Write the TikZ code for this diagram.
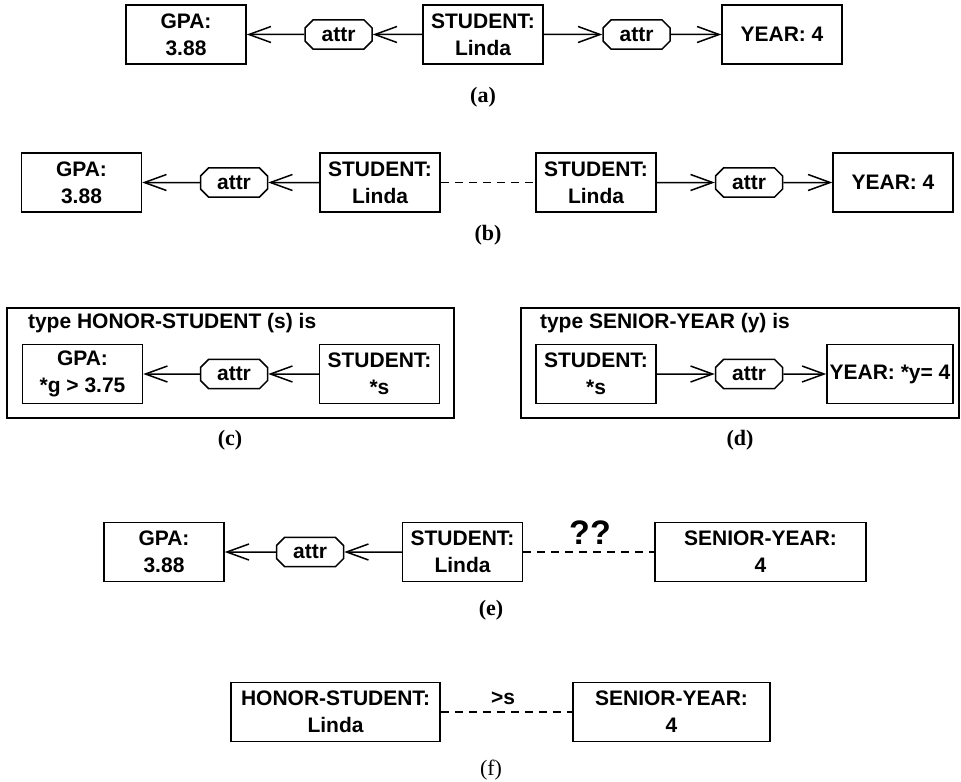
\documentclass[tikz,border=0pt]{standalone}
\usepackage{fontspec}
\setmainfont{Liberation Serif}
\setsansfont{Liberation Sans}
\usetikzlibrary{shapes,arrows.meta,positioning}

\begin{document}
\begin{tikzpicture}[%
  x=0.5pt, y=-0.5pt,
  every node/.style={font=\sffamily\bfseries\fontsize{10.5}{13.5}\selectfont},
  cbox/.style={draw=black,line width=0.75pt,minimum height=29.5pt,minimum width=60pt,align=center,inner sep=0pt},
  relbox/.style={draw=black,line width=0.75pt,chamfered rectangle,chamfered rectangle xsep=2pt,chamfered rectangle ysep=2pt,minimum width=33.5pt,minimum height=14.5pt,inner xsep=5pt,inner ysep=1.8pt},
  ctx/.style={draw=black,line width=0.75pt,minimum height=55pt,inner sep=0pt},
  attrarc/.style={line width=0.75pt,-{Straight Barb[length=11pt,width=8pt]}},
  coref/.style={line width=0.75pt,dash pattern=on 4pt off 3pt},
  figcap/.style={font=\rmfamily\bfseries\fontsize{11}{12}\selectfont},
  heading/.style={anchor=west}
]
  \useasboundingbox (0,0) rectangle (961,781);

  \node (gpaA) at (186,34.5) [cbox] {GPA:\\3.88};
  \node (attrA1) at (338.5,34.5) [relbox] {attr};
  \node (studA) at (483,34.5) [cbox] {STUDENT:\\Linda};
  \node (attrA2) at (636.5,34.5) [relbox] {attr};
  \node (yearA) at (782,34.5) [cbox] {YEAR: 4};
  \node (capA) at (483,97) [figcap] {(a)};
  \draw[attrarc] (attrA1) -- (gpaA);
  \draw[attrarc] (studA) -- (attrA1);
  \draw[attrarc] (studA) -- (attrA2);
  \draw[attrarc] (attrA2) -- (yearA);

  \node (gpaB) at (81.5,182.5) [cbox] {GPA:\\3.88};
  \node (attrB1) at (234,182.5) [relbox] {attr};
  \node (studB1) at (380,182.5) [cbox] {STUDENT:\\Linda};
  \node (studB2) at (596,182.5) [cbox] {STUDENT:\\Linda};
  \node (attrB2) at (749,182.5) [relbox] {attr};
  \node (yearB) at (893,182.5) [cbox] {YEAR: 4};
  \node (capB) at (488,235) [figcap] {(b)};
  \draw[attrarc] (attrB1) -- (gpaB);
  \draw[attrarc] (studB1) -- (attrB1);
  \draw[coref] (studB1) -- (studB2);
  \draw[attrarc] (studB2) -- (attrB2);
  \draw[attrarc] (attrB2) -- (yearB);

  \node (typeC) at (230.5,363) [ctx, minimum width=223.5pt] {};
  \node (titleC) at (21,323) [heading] {type HONOR-STUDENT (s) is};
  \node (gpaC) at (82.5,374) [cbox] {GPA:\\*g > 3.75};
  \node (attrC) at (234,374) [relbox] {attr};
  \node (studC) at (379.5,374) [cbox] {STUDENT:\\*s};
  \node (capC) at (230,440) [figcap] {(c)};
  \draw[attrarc] (attrC) -- (gpaC);
  \draw[attrarc] (studC) -- (attrC);

  \node (typeD) at (740,363) [ctx, minimum width=219pt] {};
  \node (titleD) at (533,323) [heading] {type SENIOR-YEAR (y) is};
  \node (studD) at (596,374) [cbox] {STUDENT:\\*s};
  \node (attrD) at (749,374) [relbox] {attr};
  \node (yearD) at (890,374) [cbox, minimum width=63pt] {YEAR: *y= 4};
  \node (capD) at (740,440) [figcap] {(d)};
  \draw[attrarc] (studD) -- (attrD);
  \draw[attrarc] (attrD) -- (yearD);

  \node (gpaE) at (164,552) [cbox] {GPA:\\3.88};
  \node (attrE) at (310,552) [relbox] {attr};
  \node (studE) at (462.5,552) [cbox] {STUDENT:\\Linda};
  \node (seniorE) at (760.5,552) [cbox, minimum width=105.5pt] {SENIOR-YEAR:\\4};
  \node (query) at (590,533) [font=\sffamily\bfseries\fontsize{17}{17}\selectfont] {??};
  \node (capE) at (491,610) [figcap] {(e)};
  \draw[attrarc] (attrE) -- (gpaE);
  \draw[attrarc] (studE) -- (attrE);
  \draw[coref] (studE) -- (seniorE);

  \node (honorF) at (335.5,712) [cbox, minimum width=104.5pt] {HONOR-STUDENT:\\Linda};
  \node (seniorF) at (671.5,712) [cbox, minimum width=98.5pt] {SENIOR-YEAR:\\4};
  \node (subtype) at (503,698) {>s};
  \node (capF) at (491,770) [figcap, font=\rmfamily\fontsize{11}{12}\selectfont] {(f)};
  \draw[coref] (honorF) -- (seniorF);
\end{tikzpicture}
\end{document}
